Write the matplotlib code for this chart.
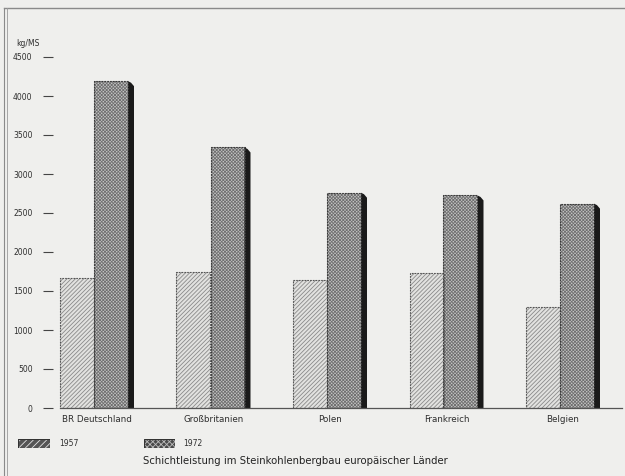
import matplotlib
matplotlib.use("Agg")
import matplotlib.pyplot as plt
import numpy as np

# Schichtleistung (kg/Mann und Schicht)
laender = ["BR Deutschland", "Großbritanien", "Polen", "Frankreich", "Belgien"]
werte_1957 = [1665, 1740, 1640, 1730, 1290]
werte_1972 = [4190, 3340, 2760, 2725, 2620]
jahre = ["1957", "1972"]
y_ticks = [0, 500, 1000, 1500, 2000, 2500, 3000, 3500, 4000, 4500]
y_label = "kg/MS"
titel = "Schichtleistung im Steinkohlenbergbau europäischer Länder"

W, H = 625, 476
DPI = 100
BG = "#efefed"
TXT = "#2e2e2e"
plt.rcParams["hatch.linewidth"] = 0.6
plt.rcParams["font.family"] = ["DejaVu Sans"]

fig = plt.figure(figsize=(W / DPI, H / DPI), dpi=DPI, facecolor=BG)

# axes placed in pixel units
ax_l, ax_r, ax_b, ax_t = 43, 622, 408, 57
ax = fig.add_axes([ax_l / W, 1 - ax_b / H, (ax_r - ax_l) / W, (ax_b - ax_t) / H])
ax.set_facecolor(BG)

pitch = 116.5          # pixels per group
bw = 34 / pitch        # bar width in data units
sw = 6 / pitch         # shadow width
x = np.arange(len(laender))

ax.set_xlim(-(94 - ax_l) / pitch, len(laender) - 1 + (ax_r - 560) / pitch)
ax.set_ylim(0, 4500)

# 1957: light diagonal hatching
ax.bar(x - bw / 2, werte_1957, width=bw, color="#e2e2e0", edgecolor="#8a8a8a",
       hatch="/" * 8, linewidth=0, zorder=2)
ax.bar(x - bw / 2, werte_1957, width=bw, fill=False, edgecolor="#555555",
       linewidth=0.8, linestyle=(0, (1.5, 1)), zorder=3)

# 1972: dense checkered raster
ax.bar(x + bw / 2, werte_1972, width=bw, color="#c4c4c4", edgecolor="#707070",
       hatch="x" * 10, linewidth=0, zorder=2)
ax.bar(x + bw / 2, werte_1972, width=bw, fill=False, edgecolor="#3a3a3a",
       linewidth=0.8, linestyle=(0, (1.5, 1)), zorder=3)

# black drop shadow on the right of the 1972 bars
dy = 5 * 4500 / (ax_b - ax_t)
for xi, v in zip(x, werte_1972):
    xr = xi + bw
    ax.fill([xr, xr + sw * 0.5, xr + sw, xr + sw, xr],
            [v, v - dy * 0.3, v - dy, 0, 0],
            color="#1a1a1a", linewidth=0, zorder=2)

# baseline
ax.plot([-bw, ax.get_xlim()[1]], [0, 0], color="#555555", linewidth=0.9,
        zorder=4, clip_on=False)

for s in ax.spines.values():
    s.set_visible(False)

ax.set_yticks(y_ticks)
ax.set_yticklabels([str(t) for t in y_ticks], fontsize=5.5, color=TXT)
ax.tick_params(axis="y", direction="in", length=7.5, width=0.8, color="#444444", pad=7.5)
ax.set_xticks(x + 3 / pitch)
ax.set_xticklabels(laender, fontsize=6.3, color=TXT)
ax.tick_params(axis="x", length=0, pad=5)

fig.text(16 / W, 1 - 44 / H, y_label, fontsize=5.5, color=TXT, va="center")

# legend swatches
def swatch(x0, y0, w, h, face, hcol, hatch):
    a = fig.add_axes([x0 / W, 1 - (y0 + h) / H, w / W, h / H])
    a.set_axis_off()
    a.add_patch(plt.Rectangle((0, 0), 1, 1, facecolor=face, edgecolor=hcol,
                              hatch=hatch, linewidth=0, transform=a.transAxes))
    a.add_patch(plt.Rectangle((0, 0), 1, 1, fill=False, edgecolor="#333333",
                              linewidth=0.8, transform=a.transAxes))

swatch(18, 439, 32, 9, "#555555", "#e4e4e4", "/" * 5)
swatch(144, 439, 31, 9, "#4a4a4a", "#bdbdbd", "x" * 6)
fig.text(59 / W, 1 - 444 / H, jahre[0], fontsize=5.5, color=TXT, va="center")
fig.text(183 / W, 1 - 444 / H, jahre[1], fontsize=5.5, color=TXT, va="center")
fig.text(143 / W, 1 - 461 / H, titel, fontsize=7.3, color="#222222", va="center")

# frame lines
fig.add_artist(plt.Line2D([4 / W, 1], [1 - 8 / H, 1 - 8 / H], color="#8a8a8a", linewidth=1.0))
fig.add_artist(plt.Line2D([4 / W, 4 / W], [0, 1 - 8 / H], color="#8a8a8a", linewidth=0.8))
fig.add_artist(plt.Line2D([6.5 / W, 6.5 / W], [0, 1 - 8 / H], color="#9a9a9a", linewidth=0.6))

fig.savefig("out.png", dpi=DPI, facecolor=BG)
